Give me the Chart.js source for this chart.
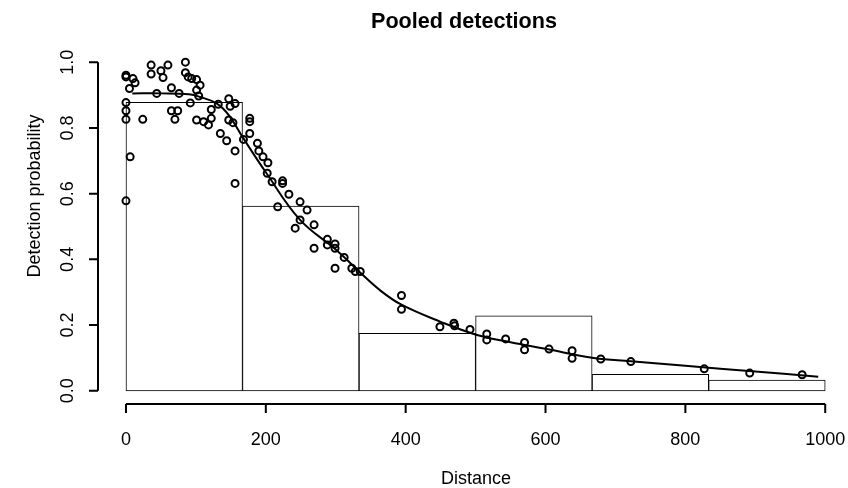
<!DOCTYPE html>
<html>
<head>
<meta charset="utf-8">
<script src="https://cdn.jsdelivr.net/npm/chart.js@4.4.1/dist/chart.umd.min.js"></script>
<style>
    html, body { margin: 0; padding: 0; background: #fff; }
    #wrap { width: 848px; height: 488px; position: relative; }
</style>
</head>
<body>
<div id="wrap"><canvas id="detChart"></canvas></div>
<script>
// histogram of pooled detections (bin centres and heights)
const binCentres = [83.33, 250, 416.67, 583.33, 750, 916.67];
const binHeights = [0.878, 0.562, 0.175, 0.228, 0.050, 0.033];

// fitted detection function
const curveDist = [9, 50, 90, 106, 130, 147, 168, 200, 249, 300, 331, 364, 394, 450, 502, 550, 600, 669, 722, 800, 900, 990];
const curveProb = [0.905, 0.905, 0.902, 0.894, 0.874, 0.839, 0.768, 0.665, 0.52, 0.43, 0.368, 0.305, 0.262, 0.21, 0.17, 0.148, 0.128, 0.10, 0.09, 0.076, 0.059, 0.043];

// observed detection probabilities
const pointDist = [
    0, 0, 10, 13, 5, 36, 36, 50, 60, 53, 85, 85, 89, 94, 101, 106, 44, 65, 76, 101, 104, 92, 0, 0, 0, 24, 65, 74, 70, 6, 0,
    122, 122, 101, 111, 118, 135, 147, 156, 149, 132, 147, 153, 144, 156, 156, 168,
    177, 177, 177, 188, 190, 196, 203, 202, 209, 224, 224, 233, 217,
    249, 259, 249, 242, 269, 288, 299, 299, 288, 269, 312, 299, 323, 335, 328,
    394, 394, 449, 469, 470, 492, 516, 516, 543, 570, 570, 605, 638, 638, 679, 722, 827, 892, 967
];
const pointProb = [
    0.96, 0.955, 0.95, 0.937, 0.92, 0.991, 0.964, 0.974, 0.991, 0.953, 1.0, 0.968, 0.955, 0.95, 0.947, 0.93, 0.905, 0.922, 0.905, 0.915, 0.897, 0.876, 0.877, 0.852, 0.826, 0.826, 0.852, 0.852, 0.826, 0.712, 0.578,
    0.856, 0.829, 0.824, 0.819, 0.809, 0.783, 0.889, 0.874, 0.866, 0.872, 0.824, 0.816, 0.761, 0.73, 0.631, 0.765,
    0.829, 0.819, 0.783, 0.753, 0.73, 0.712, 0.694, 0.662, 0.636, 0.639, 0.631, 0.598, 0.56,
    0.575, 0.55, 0.52, 0.495, 0.505, 0.461, 0.447, 0.434, 0.444, 0.434, 0.406, 0.373, 0.373, 0.363, 0.363,
    0.29, 0.248, 0.195, 0.206, 0.198, 0.187, 0.173, 0.155, 0.158, 0.147, 0.125, 0.127, 0.122, 0.099, 0.097, 0.089, 0.067, 0.054, 0.049
];

// axis ticks
const xTicks = [0, 200, 400, 600, 800, 1000];
const xTickLabels = ['0', '200', '400', '600', '800', '1000'];
const yTicks = [0, 0.2, 0.4, 0.6, 0.8, 1.0];
const yTickLabels = ['0.0', '0.2', '0.4', '0.6', '0.8', '1.0'];

const FONT = '"Liberation Sans", Arial, sans-serif';

// R-style axes: lines only between first and last tick
const rAxes = {
    id: 'rAxes',
    afterDraw(chart) {
        const { ctx, chartArea, scales } = chart;
        const xs = scales.x, ys = scales.y;
        ctx.save();
        ctx.strokeStyle = '#000';
        ctx.fillStyle = '#000';
        ctx.lineWidth = 2;
        ctx.font = '18px ' + FONT;

        // x axis
        const yb = chartArea.bottom;
        ctx.beginPath();
        ctx.moveTo(xs.getPixelForValue(xTicks[0]), yb);
        ctx.lineTo(xs.getPixelForValue(xTicks[xTicks.length - 1]), yb);
        xTicks.forEach(v => {
            const px = xs.getPixelForValue(v);
            ctx.moveTo(px, yb);
            ctx.lineTo(px, yb + 9);
        });
        ctx.stroke();
        ctx.textAlign = 'center';
        ctx.textBaseline = 'middle';
        xTicks.forEach((v, i) => ctx.fillText(xTickLabels[i], xs.getPixelForValue(v), 440));

        // y axis
        const xl = chartArea.left;
        ctx.beginPath();
        ctx.moveTo(xl, ys.getPixelForValue(yTicks[0]));
        ctx.lineTo(xl, ys.getPixelForValue(yTicks[yTicks.length - 1]));
        yTicks.forEach(v => {
            const py = ys.getPixelForValue(v);
            ctx.moveTo(xl, py);
            ctx.lineTo(xl - 9, py);
        });
        ctx.stroke();
        yTicks.forEach((v, i) => {
            ctx.save();
            ctx.translate(68, ys.getPixelForValue(v));
            ctx.rotate(-Math.PI / 2);
            ctx.fillText(yTickLabels[i], 0, 0);
            ctx.restore();
        });

        // axis titles
        ctx.fillText('Distance', 476, 479);
        ctx.save();
        ctx.translate(35, 196);
        ctx.rotate(-Math.PI / 2);
        ctx.fillText('Detection probability', 0, 0);
        ctx.restore();

        // main title
        ctx.font = 'bold 21.6px ' + FONT;
        ctx.fillText('Pooled detections', 464, 22);
        ctx.restore();
    }
};

document.addEventListener('DOMContentLoaded', () => {
    const ctx = document.getElementById('detChart').getContext('2d');
    window.detChart = new Chart(ctx, {
        type: 'scatter',
        data: {
            datasets: [
                {
                    type: 'bar',
                    label: 'Histogram',
                    data: binCentres.map((x, i) => ({ x: x, y: binHeights[i] })),
                    backgroundColor: '#fff',
                    borderColor: '#000',
                    borderWidth: 1,
                    borderSkipped: false,
                    barPercentage: 1,
                    categoryPercentage: 1,
                    grouped: false,
                    order: 3
                },
                {
                    type: 'line',
                    label: 'Fitted',
                    data: curveDist.map((x, i) => ({ x: x, y: curveProb[i] })),
                    borderColor: '#000',
                    borderWidth: 2,
                    pointRadius: 0,
                    tension: 0.4,
                    fill: false,
                    order: 2
                },
                {
                    type: 'scatter',
                    label: 'Observed',
                    data: pointDist.map((x, i) => ({ x: x, y: pointProb[i] })),
                    pointStyle: 'circle',
                    pointRadius: 3.5,
                    borderWidth: 2,
                    borderColor: '#000',
                    backgroundColor: 'rgba(0,0,0,0)',
                    order: 1
                }
            ]
        },
        options: {
            responsive: true,
            maintainAspectRatio: false,
            animation: false,
            layout: { padding: { left: 98, right: 0, top: 49, bottom: 84 } },
            scales: {
                x: { type: 'linear', min: -40, max: 1024, offset: false, display: false },
                y: { type: 'linear', min: -0.04, max: 1.04, display: false }
            },
            plugins: {
                legend: { display: false },
                tooltip: { enabled: false },
                title: { display: false }
            }
        },
        plugins: [rAxes]
    });
});
</script>
</body>
</html>
